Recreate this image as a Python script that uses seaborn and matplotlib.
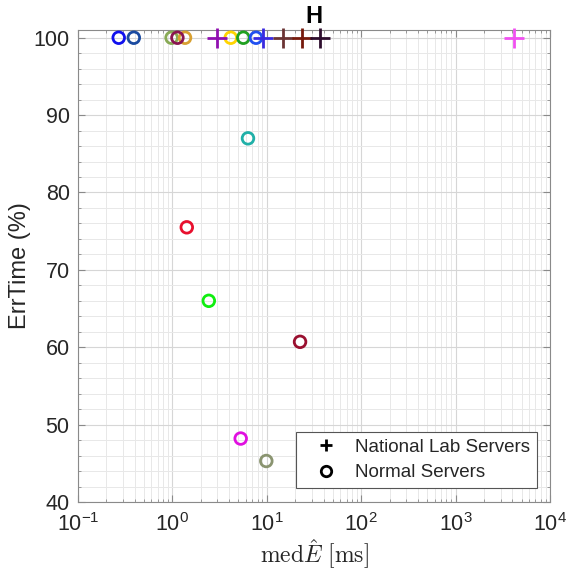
import matplotlib
matplotlib.use("Agg")
import matplotlib.pyplot as plt
from matplotlib.lines import Line2D
from matplotlib.ticker import LogLocator, MultipleLocator, NullFormatter
import seaborn as sns
import pandas as pd

# National lab servers (plus markers)
lab_x = [2.99, 9.18, 14.7, 23.4, 36.6, 4155]
lab_y = [100, 100, 100, 100, 100, 100]
lab_colors = ["#9010b0", "#3a2ae0", "#6b3434", "#761a0c", "#2e0e2e", "#f050f0"]

# Normal servers (open circles)
normal_x = [0.27, 0.39, 0.98, 1.36, 1.13, 4.15, 5.64, 7.69,
            6.32, 1.42, 2.43, 22.5, 5.29, 9.88]
normal_y = [100, 100, 100, 100, 100, 100, 100, 100,
            87.0, 75.5, 66.0, 60.7, 48.2, 45.3]
normal_colors = ["#1010ee", "#1a4aa0", "#88aa55", "#d8a030", "#8a1550",
                 "#ffd400", "#20a020", "#2050f0",
                 "#20b0a8", "#e8102e", "#10ee10", "#9a1030", "#e010e0",
                 "#8a9470"]

highlight_label = "H"
highlight_x = 31.6
y_ticks = [40, 50, 60, 70, 80, 90, 100]

sns.set_style("ticks")
plt.rcParams["font.family"] = ["Liberation Sans", "DejaVu Sans"]
plt.rcParams["mathtext.fontset"] = "custom"
plt.rcParams["mathtext.rm"] = "Liberation Sans"
plt.rcParams["mathtext.it"] = "Liberation Sans:italic"
plt.rcParams["mathtext.bf"] = "Liberation Sans:bold"

fig = plt.figure(figsize=(5.69, 5.72), dpi=100)
ax = fig.add_axes([78 / 569, 1 - 502 / 572, 472 / 569, 472 / 572])

normal_df = pd.DataFrame({"x": normal_x, "y": normal_y, "c": normal_colors})
lab_df = pd.DataFrame({"x": lab_x, "y": lab_y, "c": lab_colors})


def recolor(coll, lw):
    fc = coll.get_facecolors()
    coll.set_edgecolors(fc)
    coll.set_facecolors("none")
    coll.set_linewidths(lw)


sns.scatterplot(data=normal_df, x="x", y="y", hue="c",
                palette={c: c for c in normal_colors}, marker="o", s=70,
                legend=False, ax=ax, zorder=3, clip_on=False)
recolor(ax.collections[-1], 2.0)

sns.scatterplot(data=lab_df, x="x", y="y", hue="c",
                palette={c: c for c in lab_colors}, marker="+", s=210,
                legend=False, ax=ax, zorder=4, clip_on=False)
recolor(ax.collections[-1], 2.0)

ax.set_xscale("log")
ax.set_xlim(0.1, 1e4)
ax.set_ylim(40, 101)
ax.set_yticks(y_ticks)
ax.yaxis.set_minor_locator(MultipleLocator(2))
ax.xaxis.set_major_locator(LogLocator(base=10, numticks=10))
ax.xaxis.set_minor_locator(LogLocator(base=10, subs=range(2, 10), numticks=20))
ax.xaxis.set_minor_formatter(NullFormatter())

ax.grid(True, which="major", color="#d6d6d6", linewidth=0.8)
ax.grid(True, which="minor", color="#e8e8e8", linewidth=0.7)
ax.set_axisbelow(True)

for sp in ax.spines.values():
    sp.set_color("#8a8a8a")
    sp.set_linewidth(0.8)
    sp.set_visible(True)

ax.tick_params(which="both", direction="in", top=True, right=True,
               colors="#8a8a8a", labelcolor="#262626")
ax.tick_params(which="major", length=5, width=0.8, labelsize=15.5)
ax.tick_params(axis="y", which="major", pad=6)
ax.tick_params(axis="x", which="major", pad=8)
ax.tick_params(which="minor", length=2.5, width=0.6)

ax.set_ylabel("ErrTime (%)", fontsize=17, color="#262626", labelpad=2)
ax.set_xlabel(r"$\mathrm{med}\hat{E}\ [\mathrm{ms}]$", fontsize=17,
              color="#262626", math_fontfamily="cm", labelpad=1)

ax.text(highlight_x, 102.8, highlight_label, ha="center", va="center",
        fontsize=17, fontweight="bold", color="black", clip_on=False)

handles = [
    Line2D([], [], linestyle="none", marker="+", color="black",
           markersize=8, markeredgewidth=2.0, label="National Lab Servers"),
    Line2D([], [], linestyle="none", marker="o", color="black",
           markerfacecolor="none", markersize=7.5, markeredgewidth=2.0,
           label="Normal Servers"),
]
leg = ax.legend(handles=handles, loc="lower right",
                bbox_to_anchor=(0.9725, 0.0297), borderaxespad=0,
                fontsize=13.5, frameon=True, fancybox=False, framealpha=1,
                edgecolor="#555555", handlelength=2.5, handletextpad=0.3,
                borderpad=0.35, labelspacing=0.45)
leg.get_frame().set_linewidth(0.8)
for t in leg.get_texts():
    t.set_color("#262626")

fig.savefig("out.png", dpi=100)
